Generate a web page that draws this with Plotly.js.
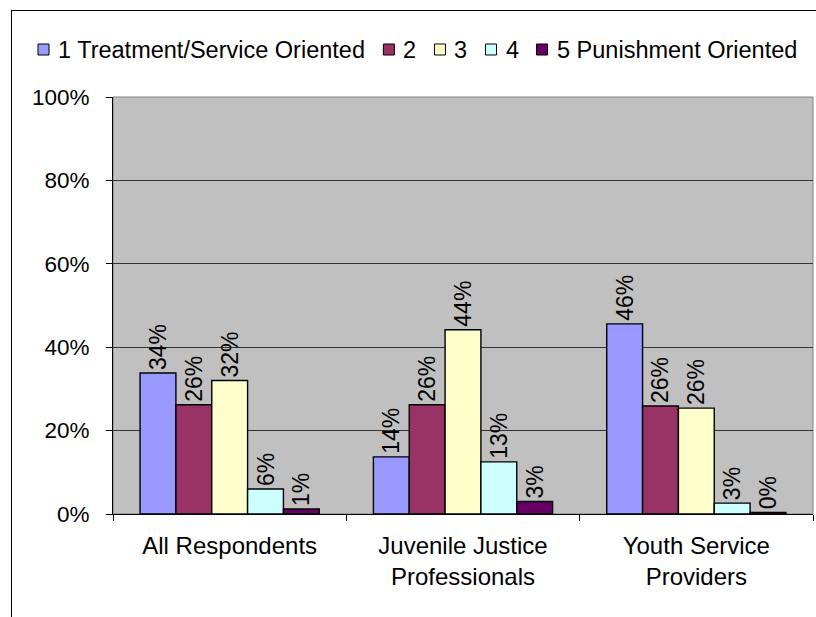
<!DOCTYPE html>
<html>
<head>
<meta charset="utf-8">
<script src="https://cdn.plot.ly/plotly-3.0.1.min.js"></script>
<style>
html,body{margin:0;padding:0;background:#fff;overflow:hidden;}
#wrap{position:relative;width:816px;height:617px;}
#chart{width:816px;height:617px;}
#frame{position:absolute;left:11px;top:10px;width:900px;height:700px;border:1px solid #000;pointer-events:none;}
</style>
</head>
<body>
<div id="wrap"><div id="chart"></div><div id="frame"></div></div>
<script>
const categories = ["All Respondents", "Juvenile Justice<br>Professionals", "Youth Service<br>Providers"];
const seriesNames = ["1 Treatment/Service Oriented", "2", "3", "4", "5 Punishment Oriented"];
const s1 = [33.8, 13.7, 45.6];
const s2 = [26.2, 26.2, 25.9];
const s3 = [32.0, 44.2, 25.4];
const s4 = [6.0, 12.5, 2.6];
const s5 = [1.2, 3.0, 0.4];
const labels1 = ["34%", "14%", "46%"];
const labels2 = ["26%", "26%", "26%"];
const labels3 = ["32%", "44%", "26%"];
const labels4 = ["6%", "13%", "3%"];
const labels5 = ["1%", "3%", "0%"];
const colors = ["#9999FF", "#993366", "#FFFFCC", "#CCFFFF", "#660066"];

const allVals = [s1, s2, s3, s4, s5];
const allLabels = [labels1, labels2, labels3, labels4, labels5];
const FONT = "Liberation Sans, Arial, sans-serif";

const W = 816, H = 617;
const M = {l: 113, r: 3, t: 97, b: 103};
const PW = W - M.l - M.r, PH = H - M.t - M.b;
const px2x = p => (p - M.l) / PW;
const py2y = p => (H - M.b - p) / PH;

const traces = allVals.map((v, i) => ({
  type: "bar",
  name: seriesNames[i],
  x: categories,
  y: v,
  text: allLabels[i],
  textposition: "outside",
  textangle: -90,
  constraintext: "none",
  textfont: {family: FONT, size: 23, color: "#000"},
  cliponaxis: false,
  marker: {color: colors[i], line: {color: "#000", width: 1.4}},
  hoverinfo: "skip",
  showlegend: false
}));

// Legend built as text + swatches (laid out like the original's compact legend)
const LEG_FONT = 23.5;
const ctx = document.createElement("canvas").getContext("2d");
ctx.font = LEG_FONT + "px 'Liberation Sans', Arial, sans-serif";
const legendShapes = [], legendAnns = [];
let cx = 38;
const legY = 49.5, sw = 11;
seriesNames.forEach((nm, i) => {
  legendShapes.push({
    type: "rect", xref: "paper", yref: "paper",
    x0: px2x(cx), x1: px2x(cx + sw), y0: py2y(legY + sw / 2), y1: py2y(legY - sw / 2),
    fillcolor: colors[i], line: {color: "#000", width: 1}, layer: "above"
  });
  const tx = cx + 19;
  legendAnns.push({
    xref: "paper", yref: "paper", x: px2x(tx), y: py2y(legY),
    xanchor: "left", yanchor: "middle", showarrow: false, text: nm,
    font: {family: FONT, size: LEG_FONT, color: "#000"}, borderpad: 0
  });
  cx = tx + ctx.measureText(nm).width + 19;
});

const layout = {
  width: W, height: H,
  margin: M,
  paper_bgcolor: "#fff",
  plot_bgcolor: "#C0C0C0",
  font: {family: FONT, size: 23, color: "#000"},
  barmode: "group",
  bargap: 0.232,
  bargroupgap: 0,
  showlegend: false,
  shapes: [{
    type: "rect", xref: "paper", yref: "paper", x0: 0, x1: 1, y0: 0, y1: 1,
    line: {color: "#808080", width: 1}, layer: "below"
  }].concat(legendShapes),
  annotations: legendAnns,
  xaxis: {
    type: "category",
    showline: true, linecolor: "#000", linewidth: 1,
    ticks: "outside", tickson: "boundaries", ticklen: 6, tickcolor: "#000",
    tickfont: {family: FONT, size: 24},
    ticklabelstandoff: 10,
    showgrid: false,
    zeroline: false
  },
  yaxis: {
    range: [0, 100],
    dtick: 20,
    ticksuffix: "%",
    showline: true, linecolor: "#000", linewidth: 1,
    ticks: "outside", ticklen: 6, tickcolor: "#000",
    tickfont: {family: FONT, size: 22.5},
    ticklabelstandoff: 12,
    showgrid: true, gridcolor: "#333333", gridwidth: 1,
    zeroline: false,
    fixedrange: true
  }
};

Plotly.newPlot("chart", traces, layout, {staticPlot: true, displayModeBar: false});
</script>
</body>
</html>
